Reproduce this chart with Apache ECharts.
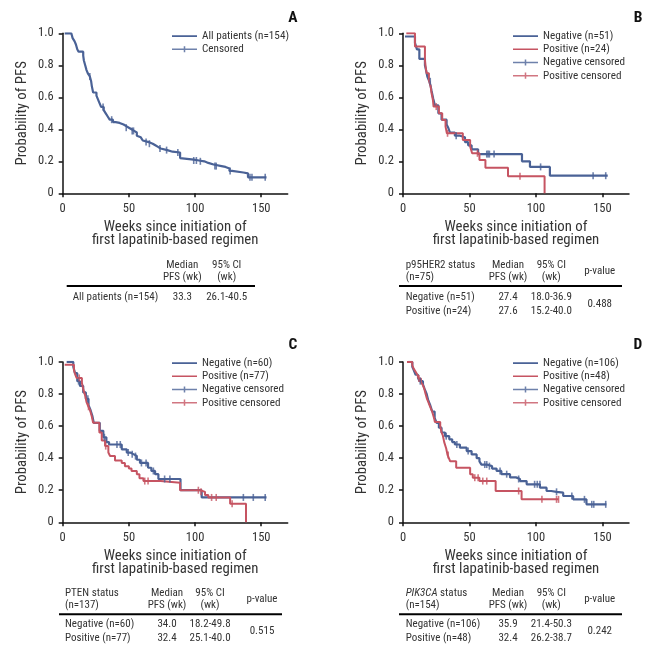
<!DOCTYPE html>
<html><head><meta charset="utf-8">
<script src="https://cdn.jsdelivr.net/npm/echarts@6/dist/echarts.min.js"></script>
<style>html,body{margin:0;padding:0;background:#fff}#c{width:653px;height:653px}</style>
</head><body><div id="c"></div>
<script>
// ---------- data ----------
const xTicks = [0, 50, 100, 150];
const yTicks = [0, 0.2, 0.4, 0.6, 0.8, 1.0];

// Panel A
const allCurve = [[1.5,1.0],[6.5,0.99],[7.5,0.97],[9,0.95],[10,0.93],[11,0.9],[12,0.885],[15.5,0.86],[16,0.83],[17,0.8],[18,0.77],[19,0.75],[20.5,0.73],[21.5,0.7],[22,0.67],[23,0.63],[25.5,0.61],[26.5,0.59],[27.5,0.57],[29,0.54],[31,0.52],[32.5,0.5],[34,0.48],[35.5,0.46],[38,0.445],[40,0.44],[43,0.43],[46,0.42],[48,0.41],[50,0.4],[52,0.39],[54,0.38],[56,0.36],[57.5,0.35],[59,0.34],[60.5,0.33],[62,0.32],[65,0.31],[68,0.3],[70,0.29],[72,0.28],[74,0.27],[79,0.26],[83,0.255],[88.7,0.22],[90,0.21],[99,0.205],[103,0.2],[107,0.19],[110,0.18],[114,0.17],[120,0.165],[123,0.155],[126,0.14],[128,0.13],[136.5,0.125],[140,0.1],[154,0.1]];
const allCens = [[20.5,0.73],[30.5,0.54],[37,0.46],[48,0.41],[52.5,0.39],[53.5,0.39],[63,0.32],[65.5,0.31],[73.5,0.28],[78.5,0.27],[87,0.255],[99,0.205],[101,0.205],[104,0.2],[115,0.17],[116,0.17],[126.5,0.14],[141.5,0.1],[143,0.1],[153,0.1]];

// Panel B (p95HER2)
const bNegCurve = [[1.5,0.98],[9,0.94],[10.5,0.9],[12.3,0.84],[16.5,0.8],[17.3,0.77],[18.3,0.73],[19.8,0.7],[20.8,0.67],[21.5,0.64],[22.8,0.59],[24,0.55],[26.6,0.5],[29,0.46],[32.8,0.43],[34,0.41],[35.3,0.38],[39,0.36],[42.9,0.35],[46.6,0.32],[49,0.3],[51.6,0.275],[56.5,0.245],[89.5,0.2],[95.5,0.165],[110.5,0.11],[154,0.11]];
const bPosCurve = [[2.5,1.0],[9,0.917],[16.5,0.833],[17,0.792],[17.8,0.75],[19.5,0.708],[20.8,0.667],[21.5,0.625],[22.5,0.583],[23,0.542],[27,0.5],[29.5,0.458],[32,0.417],[33,0.375],[45,0.333],[50.5,0.292],[52,0.25],[57.5,0.208],[62,0.16],[79,0.107],[106.5,0]];
const bNegCens = [[20.5,0.7],[40,0.36],[63,0.245],[64,0.245],[65,0.245],[68.5,0.245],[103.5,0.165],[143,0.11],[152.5,0.11]];
const bPosCens = [[25,0.542],[33.5,0.375],[56,0.25],[88,0.107]];

// Panel C (PTEN)
const cNegCurve = [[3,1.0],[8,0.97],[9.3,0.93],[11,0.88],[13,0.85],[15.5,0.81],[17.5,0.77],[19.5,0.73],[21,0.7],[22.5,0.66],[23.5,0.62],[28,0.57],[30.7,0.53],[33,0.5],[35,0.485],[44.6,0.455],[48.4,0.435],[51,0.425],[53.4,0.413],[56,0.39],[58.4,0.37],[64.5,0.34],[67,0.32],[69.8,0.3],[72.3,0.27],[89,0.2],[105,0.155],[154,0.155]];
const cPosCurve = [[1.5,0.983],[8.5,0.95],[9.5,0.92],[10.5,0.9],[14.5,0.87],[15.5,0.83],[17,0.79],[18,0.75],[19.5,0.72],[20.6,0.7],[22,0.66],[23,0.62],[27.7,0.56],[29.5,0.51],[32,0.475],[34.5,0.435],[35.8,0.413],[39.5,0.385],[44.6,0.37],[47,0.35],[50,0.335],[52,0.32],[56,0.3],[58,0.275],[61,0.257],[74,0.247],[88.7,0.2],[104,0.19],[107.5,0.17],[110,0.155],[126.5,0.116],[138.5,0]];
const cNegCens = [[12,0.88],[19,0.77],[31.5,0.53],[41,0.485],[43.5,0.485],[49.5,0.435],[52.5,0.425],[55,0.413],[59.5,0.37],[63,0.37],[68.5,0.32],[77,0.27],[81,0.27],[136.5,0.155],[144,0.155],[153,0.155]];
const cPosCens = [[12.5,0.9],[19.5,0.72],[32.5,0.475],[62,0.257],[64.5,0.257],[102.5,0.2],[104.5,0.19],[112.5,0.155],[116,0.155],[128,0.116]];

// Panel D (PIK3CA)
const dNegCurve = [[3.8,1.0],[7,0.97],[8,0.95],[9.5,0.92],[11.3,0.9],[12.5,0.88],[15,0.86],[16.3,0.83],[17.8,0.8],[19,0.76],[20.5,0.73],[22,0.69],[23.8,0.65],[25.3,0.62],[27,0.59],[29,0.56],[31.6,0.537],[34.8,0.517],[37,0.5],[39,0.485],[42.8,0.465],[47.9,0.444],[51.6,0.423],[55.4,0.4],[57.5,0.38],[59,0.36],[63,0.35],[67,0.335],[70.4,0.32],[74,0.3],[80.5,0.28],[85,0.27],[88,0.257],[93,0.237],[103,0.216],[108,0.195],[111.5,0.19],[115.5,0.185],[120.5,0.164],[128,0.143],[138,0.112],[153,0.112]];
const dPosCurve = [[3,1.0],[7,0.979],[8,0.958],[9.5,0.938],[11,0.917],[11.8,0.896],[13.5,0.875],[15,0.854],[16,0.833],[17,0.8],[18,0.771],[19,0.75],[20,0.729],[21,0.708],[22,0.688],[23.5,0.646],[24,0.625],[28,0.6],[29,0.56],[30,0.54],[31,0.5],[32.5,0.46],[33.5,0.42],[34.5,0.4],[35.5,0.38],[40,0.34],[50.5,0.3],[52.5,0.278],[57.5,0.257],[69.7,0.195],[89.2,0.143],[117,0.143]];
const dNegCens = [[13,0.88],[32.5,0.537],[40.5,0.485],[49,0.444],[61.5,0.36],[63,0.36],[65,0.35],[73,0.32],[78,0.3],[87,0.27],[99,0.237],[101,0.237],[103,0.237],[115.5,0.19],[127,0.164],[136.5,0.143],[142,0.112],[143.5,0.112],[152.5,0.112]];
const dPosCens = [[12,0.896],[34,0.42],[54,0.278],[56.5,0.278],[60,0.257],[63,0.257],[87,0.195],[104.5,0.143],[115.5,0.143],[117,0.143]];

// Tables
const tblHeadMedian = 'Median\nPFS (wk)';
const tblHeadCI = '95% CI\n(wk)';
const tblHeadP = 'p-value';
const tableARows = [['All patients (n=154)', '33.3', '26.1-40.5']];
const tableBTitle = 'p95HER2 status\n(n=75)';
const tableBRows = [['Negative (n=51)', '27.4', '18.0-36.9'], ['Positive (n=24)', '27.6', '15.2-40.0']];
const tableBP = '0.488';
const tableCTitle = 'PTEN status\n(n=137)';
const tableCRows = [['Negative (n=60)', '34.0', '18.2-49.8'], ['Positive (n=77)', '32.4', '25.1-40.0']];
const tableCP = '0.515';
const tableDTitle = '{i|PIK3CA} status\n(n=154)';
const tableDRows = [['Negative (n=106)', '35.9', '21.4-50.3'], ['Positive (n=48)', '32.4', '26.2-38.7']];
const tableDP = '0.242';

// ---------- styling ----------
const FONT = 'Roboto';
const FS = 'condensed';   // font-stretch keyword, injected via fontStyle
const BLUE = '#4a6296', RED = '#c65462', TXT = '#333', AX = '#111';
const LINE_ICON = 'path://M0,0h0.01v0.01h-0.01z M0,3.0h26v2h-26z M0,8h0.01v0.01h-0.01z';
const LINE_ICON_THIN = 'path://M0,0h0.01v0.01h-0.01z M0,3.3h26v1.4h-26z M0,8h0.01v0.01h-0.01z';
const CENS_ICON = 'path://M0,0h0.01v0.01h-0.01z M0,3.2h26v1.6h-26z M12.2,0.8h1.6v6.4h-1.6z M0,8h0.01v0.01h-0.01z';

const grids = [
  {left: 62.7, top: 33.3, width: 225, height: 160},
  {left: 403, top: 33.3, width: 226, height: 160},
  {left: 62.7, top: 361.9, width: 225, height: 160.4},
  {left: 403, top: 361.9, width: 226, height: 160.4}
];

function xAxis(i) {
  return {
    type: 'value', gridIndex: i, min: 0, max: 170, interval: 50,
    axisLine: {show: true, onZero: false, lineStyle: {color: AX, width: 1.5}},
    axisTick: {show: true, inside: false, length: 4, customValues: xTicks, lineStyle: {color: AX, width: 1.5}},
    axisLabel: {customValues: xTicks, fontFamily: FONT, fontStyle: FS, fontSize: 12.5, color: TXT, margin: 9},
    splitLine: {show: false},
    name: 'Weeks since initiation of\nfirst lapatinib-based regimen',
    nameLocation: 'middle', nameGap: 27,
    nameTextStyle: {fontFamily: FONT, fontStyle: FS, fontSize: 14.8, color: TXT, lineHeight: 13.5}
  };
}
function yAxis(i) {
  return {
    type: 'value', gridIndex: i, min: 0, max: 1, interval: 0.2,
    axisLine: {show: true, onZero: false, lineStyle: {color: AX, width: 1.5}},
    axisTick: {show: true, inside: false, length: 4, lineStyle: {color: AX, width: 1.5}},
    axisLabel: {fontFamily: FONT, fontStyle: FS, fontSize: 12.5, color: TXT, margin: 9,
      formatter: v => (v === 0 ? '0' : v.toFixed(1))},
    splitLine: {show: false},
    name: 'Probability of PFS', nameLocation: 'middle', nameGap: 33,
    nameTextStyle: {fontFamily: FONT, fontStyle: FS, fontSize: 14.8, color: TXT}
  };
}
function lineS(name, i, data, color, w) {
  return {type: 'line', name, xAxisIndex: i, yAxisIndex: i, data, step: 'end',
    symbol: 'none', showSymbol: false, lineStyle: {color, width: w}, itemStyle: {color},
    animation: false, z: 2};
}
function censS(name, i, data, color) {
  return {type: 'scatter', name, xAxisIndex: i, yAxisIndex: i, data,
    symbol: 'rect', symbolSize: [1.6, 7], itemStyle: {color}, animation: false, z: 3};
}
function legend(left, top, items) {
  return {left, top, orient: 'vertical', itemWidth: 25, itemHeight: 8, itemGap: 0,
    padding: 0, selectedMode: false,
    textStyle: {fontFamily: FONT, fontStyle: FS, fontSize: 11.2, color: TXT, lineHeight: 13.2},
    itemStyle: {borderWidth: 0}, data: items};
}

// ---------- graphic (letters + tables) ----------
const G = [];
function txt(x, y, s, align, extra) {
  G.push({type: 'text', x, y, silent: true,
    style: Object.assign({text: s, fill: TXT, fontFamily: FONT, fontStyle: FS, fontSize: 11,
      align, verticalAlign: 'middle', lineHeight: 12}, extra || {})});
}
function rule(x1, x2, y) {
  G.push({type: 'line', silent: true, shape: {x1, y1: y, x2, y2: y}, style: {stroke: '#000', lineWidth: 2}});
}
function letter(x, y, s) {
  G.push({type: 'text', x, y, silent: true,
    style: {text: s, fill: '#111', fontFamily: FONT, fontStyle: FS, fontSize: 15.5, fontWeight: 'bold', align: 'center', verticalAlign: 'middle'}});
}
letter(293, 18, 'A'); letter(638, 18, 'B'); letter(293, 345, 'C'); letter(638, 345, 'D');

function table(o) {
  if (o.title) txt(o.left, o.headY, o.title, 'left', o.rich ? {rich: {i: {fontFamily: FONT, fontSize: 11, fontStyle: 'italic ' + FS, fill: TXT}}} : null);
  txt(o.medX, o.headY, tblHeadMedian, 'center');
  txt(o.ciX, o.headY, tblHeadCI, 'center');
  if (o.p) txt(o.pX, o.headY, tblHeadP, 'center');
  rule(o.r1, o.r2, o.ruleY);
  o.rows.forEach((r, k) => {
    const y = o.rowY + k * o.rowGap;
    txt(o.rowLeft, y, r[0], 'left');
    txt(o.medX, y, r[1], 'center');
    txt(o.ciX, y, r[2], 'center');
  });
  if (o.p) txt(o.pX, o.rowY + o.rowGap / 2, o.p, 'center');
}
table({title: null, left: 0, headY: 271, medX: 182.3, ciX: 226.7, r1: 66.7, r2: 255, ruleY: 286,
  rows: tableARows, rowLeft: 72.7, rowY: 297.3, rowGap: 14});
table({title: tableBTitle, left: 405.7, headY: 271, medX: 508, ciX: 551.3, pX: 599.7, p: tableBP,
  r1: 399, r2: 622, ruleY: 286, rows: tableBRows, rowLeft: 405.7, rowY: 297, rowGap: 14});
table({title: tableCTitle, left: 65, headY: 599.3, medX: 167, ciX: 210, pX: 262, p: tableCP,
  r1: 59, r2: 282, ruleY: 614.3, rows: tableCRows, rowLeft: 65, rowY: 624.5, rowGap: 14});
table({title: tableDTitle, rich: true, left: 405.7, headY: 599.3, medX: 508, ciX: 551.3, pX: 599.7, p: tableDP,
  r1: 399, r2: 622, ruleY: 614.3, rows: tableDRows, rowLeft: 405.7, rowY: 624.5, rowGap: 14});

// ---------- chart ----------
const chart = echarts.init(document.getElementById('c'), null, {renderer: 'canvas'});
chart.setOption({
  backgroundColor: '#fff',
  animation: false,
  grid: grids,
  xAxis: [0, 1, 2, 3].map(xAxis),
  yAxis: [0, 1, 2, 3].map(yAxis),
  legend: [
    legend(172, 29.5, [{name: 'All patients (n=154)', icon: LINE_ICON}, {name: 'Censored', icon: CENS_ICON}]),
    legend(513, 29.5, [{name: 'Negative (n=51)', icon: LINE_ICON}, {name: 'Positive (n=24)', icon: LINE_ICON_THIN},
      {name: 'Negative censored', icon: CENS_ICON}, {name: 'Positive censored', icon: CENS_ICON}]),
    legend(172, 356.5, [{name: 'Negative (n=60)', icon: LINE_ICON}, {name: 'Positive (n=77)', icon: LINE_ICON_THIN},
      {name: 'Negative censored', icon: CENS_ICON}, {name: 'Positive censored', icon: CENS_ICON}]),
    legend(513, 356.5, [{name: 'Negative (n=106)', icon: LINE_ICON}, {name: 'Positive (n=48)', icon: LINE_ICON_THIN},
      {name: 'Negative censored', icon: CENS_ICON}, {name: 'Positive censored', icon: CENS_ICON}])
  ],
  series: [
    lineS('All patients (n=154)', 0, allCurve, BLUE, 2.2),
    censS('Censored', 0, allCens, BLUE),
    lineS('Negative (n=51)', 1, bNegCurve, BLUE, 2.2),
    lineS('Positive (n=24)', 1, bPosCurve, RED, 2),
    censS('Negative censored', 1, bNegCens, BLUE),
    censS('Positive censored', 1, bPosCens, RED),
    lineS('Negative (n=60)', 2, cNegCurve, BLUE, 2.2),
    lineS('Positive (n=77)', 2, cPosCurve, RED, 2),
    censS('Negative censored', 2, cNegCens, BLUE),
    censS('Positive censored', 2, cPosCens, RED),
    lineS('Negative (n=106)', 3, dNegCurve, BLUE, 2.2),
    lineS('Positive (n=48)', 3, dPosCurve, RED, 2),
    censS('Negative censored', 3, dNegCens, BLUE),
    censS('Positive censored', 3, dPosCens, RED)
  ],
  graphic: G
});
</script></body></html>
